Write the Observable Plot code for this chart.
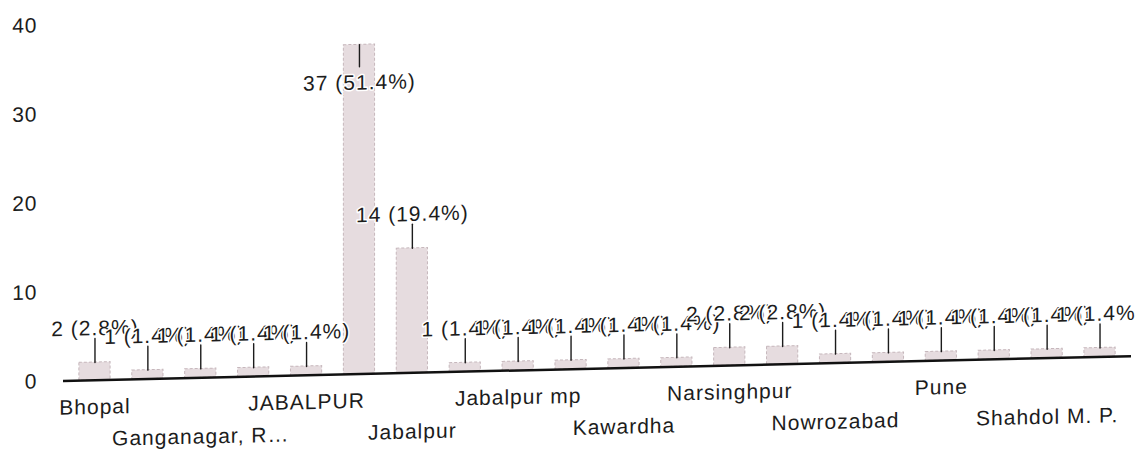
<!DOCTYPE html>
<html>
<head>
<meta charset="utf-8">
<script src="https://cdn.jsdelivr.net/npm/d3@7"></script>
<script src="https://cdn.jsdelivr.net/npm/@observablehq/plot@0.6"></script>
<style>
  html, body { margin: 0; padding: 0; background: #ffffff; }
  #chart { width: 1135px; height: 454px; overflow: hidden; }
</style>
</head>
<body>
<div id="chart"></div>
<script>
// Categories in chart order ("" = bar whose name is not printed on the axis)
const categories = [
  "Bhopal", "", "Ganganagar, R…", "", "JABALPUR", "", "Jabalpur", "",
  "Jabalpur mp", "", "Kawardha", "", "Narsinghpur", "", "Nowrozabad", "",
  "Pune", "", "Shahdol M. P.", ""
];
// Response counts per bar
const counts = [2, 1, 1, 1, 1, 37, 14, 1, 1, 1, 1, 1, 2, 2, 1, 1, 1, 1, 1, 1];
// Y-axis tick values
const yTicks = [0, 10, 20, 30, 40];

const total = d3.sum(counts);
const maxCount = d3.max(counts);
const rows = categories.map((name, i) => ({
  i,
  name,
  value: counts[i],
  label: `${counts[i]} (${(counts[i] / total * 100).toFixed(1)}%)`
}));
const named = rows.filter(d => d.name !== "");
const rowTop = named.filter((d, k) => k % 2 === 0);
const rowBottom = named.filter((d, k) => k % 2 === 1);

const lineShape = { draw(context, l) { context.moveTo(0, 0); context.lineTo(0, -l); } };
const ink = "#1c1c1c";

const chart = Plot.plot({
  width: 1135,
  height: 454,
  marginTop: 26,
  marginBottom: 72,
  marginLeft: 63,
  marginRight: 4,
  style: {
    fontFamily: "'Liberation Sans', Arial, sans-serif",
    fontSize: "21px",
    letterSpacing: "1px",
    color: ink,
    background: "#ffffff",
    overflow: "visible"
  },
  x: { type: "band", domain: categories.map((_, i) => i), paddingInner: 0.41, paddingOuter: 0.3, round: false, axis: null },
  y: { domain: [0, 40], axis: null },
  marks: [
    Plot.barY(rows, { x: "i", y: "value", fill: "#e6dcdf", stroke: "#c6b7bc", strokeWidth: 1, strokeDasharray: "3,2" }),
    Plot.axisY({ ticks: yTicks, tickSize: 0, tickPadding: 26, label: null, fill: ink }),
    Plot.ruleY([0], { stroke: "#111111", strokeWidth: 2.5 }),
    Plot.vector(rows.filter(d => d.value !== maxCount), { x: "i", y: "value", length: 24, rotate: 0, anchor: "start", shape: lineShape, stroke: ink, fill: "none", strokeWidth: 1.4 }),
    Plot.vector(rows.filter(d => d.value === maxCount), { x: "i", y: "value", length: 22, rotate: 180, anchor: "start", shape: lineShape, stroke: ink, fill: "none", strokeWidth: 1.4 }),
    Plot.text(rows.filter(d => d.value !== maxCount), { x: "i", y: "value", text: "label", dy: -34, fill: ink, stroke: "#ffffff", strokeWidth: 3, paintOrder: "stroke" }),
    Plot.text(rows.filter(d => d.value === maxCount), { x: "i", y: "value", text: "label", dy: 38, fill: ink, stroke: "#ffffff", strokeWidth: 3, paintOrder: "stroke" }),
    Plot.text(rowTop, { x: "i", y: 0, text: "name", dy: 27, fill: ink }),
    Plot.text(rowBottom, { x: "i", y: 0, text: "name", dy: 59, fill: ink })
  ]
});

chart.style.transformOrigin = "0 0";
chart.style.transform = "skewY(-1.335deg)";
document.getElementById("chart").appendChild(chart);
</script>
</body>
</html>
